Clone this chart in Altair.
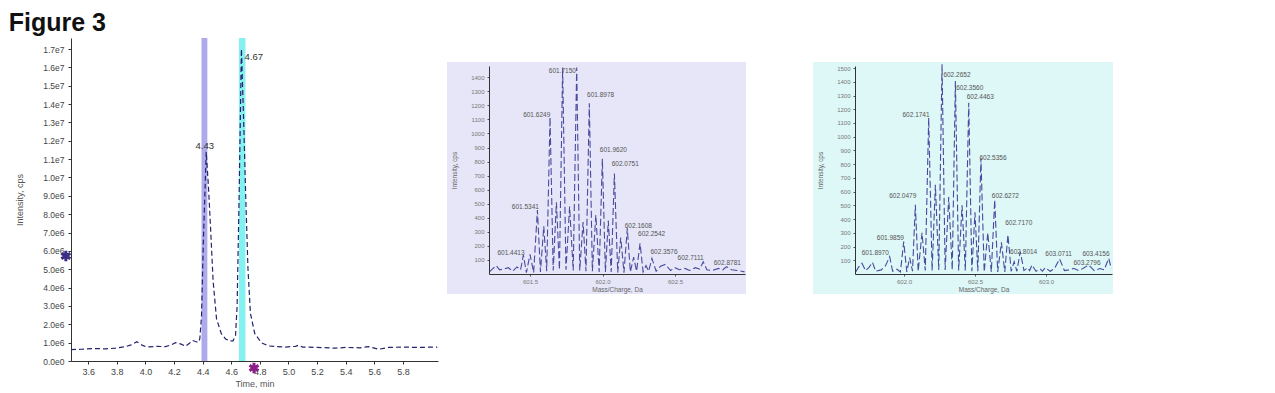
import altair as alt
import pandas as pd

# ---------------- Chromatogram (left) ----------------
chrom_time = [3.48, 3.55, 3.65, 3.72, 3.79, 3.86, 3.90, 3.94, 3.98, 4.01, 4.08, 4.14, 4.18,
              4.21, 4.25, 4.28, 4.31, 4.33, 4.35, 4.37, 4.38, 4.392, 4.405, 4.425, 4.44,
              4.457, 4.473, 4.497, 4.53, 4.56, 4.59, 4.613, 4.63, 4.641, 4.655, 4.671, 4.687,
              4.701, 4.717, 4.734, 4.764, 4.81, 4.86, 4.92, 4.98, 5.05, 5.07, 5.10, 5.20,
              5.33, 5.40, 5.50, 5.56, 5.63, 5.70, 5.80, 5.90, 6.04]
chrom_int = [0.62e6, 0.64e6, 0.68e6, 0.66e6, 0.70e6, 0.78e6, 0.88e6, 1.05e6, 0.85e6, 0.76e6,
             0.80e6, 0.78e6, 0.88e6, 1.00e6, 0.92e6, 0.80e6, 0.98e6, 1.12e6, 1.06e6, 1.02e6,
             1.20e6, 2.40e6, 6.50e6, 11.4e6, 9.60e6, 7.00e6, 4.40e6, 2.30e6, 1.50e6, 1.20e6,
             1.10e6, 1.10e6, 1.40e6, 3.00e6, 9.00e6, 17.0e6, 13.0e6, 9.00e6, 5.00e6, 2.60e6,
             1.50e6, 1.00e6, 0.82e6, 0.78e6, 0.76e6, 0.80e6, 0.86e6, 0.76e6, 0.74e6, 0.70e6,
             0.74e6, 0.72e6, 0.78e6, 0.64e6, 0.74e6, 0.76e6, 0.74e6, 0.76e6]
band_start = [4.392, 4.654]
band_end = [4.433, 4.699]
band_color = ["#aaa6ea", "#7df0f0"]
peak_label_t = [4.415, 4.758]
peak_label_i = [11.7e6, 16.56e6]
peak_label_text = ["4.43", "4.67"]
chrom_ticks_x = [3.6, 3.8, 4.0, 4.2, 4.4, 4.6, 4.8, 5.0, 5.2, 5.4, 5.6, 5.8]
chrom_ticks_y = [0, 1e6, 2e6, 3e6, 4e6, 5e6, 6e6, 7e6, 8e6, 9e6, 1e7, 1.1e7, 1.2e7, 1.3e7,
                 1.4e7, 1.5e7, 1.6e7, 1.7e7]
marker_t = [3.444, 4.759]
marker_i = [5.72e6, -0.38e6]
marker_color = ["#3a2f85", "#8a1f8a"]

# ---------------- Spectrum 1 (middle) ----------------
ms1_mz = [601.22, 601.245, 601.266, 601.29, 601.32, 601.35, 601.38, 601.41, 601.435, 601.454,
          601.475, 601.50, 601.525, 601.551, 601.572, 601.595, 601.615, 601.638, 601.66,
          601.682, 601.703, 601.725, 601.748, 601.773, 601.798, 601.822, 601.843, 601.866,
          601.886, 601.909, 601.93, 601.954, 601.977, 601.999, 602.02, 602.04, 602.06,
          602.082, 602.105, 602.126, 602.148, 602.171, 602.192, 602.215, 602.235, 602.259,
          602.28, 602.30, 602.318, 602.341, 602.37, 602.40, 602.433, 602.47, 602.50, 602.53,
          602.569, 602.60, 602.64, 602.67, 602.695, 602.72, 602.76, 602.80, 602.83, 602.856,
          602.89, 602.93, 602.96, 602.98]
ms1_int = [15, 40, 60, 30, 35, 45, 20, 50, 30, 135,
           10, 140, 10, 455, 15, 340, 20, 1115, 25,
           510, 30, 1470, 30, 480, 25, 1470, 25, 370,
           20, 1215, 20, 420, 15, 820, 15, 380, 15,
           715, 10, 260, 10, 325, 15, 120, 20, 218,
           15, 60, 20, 111, 20, 55, 68, 25, 45, 30,
           40, 25, 45, 35, 87, 30, 25, 40, 30, 52,
           30, 25, 20, 15]
ms1_label_mz = [601.369, 601.468, 601.546, 601.723, 601.987, 602.075, 602.157, 602.247,
                602.339, 602.424, 602.608, 602.861]
ms1_label_int = [146, 477, 1131, 1445, 1272, 883, 784, 342, 283, 158, 116, 76]
ms1_label_text = ["601.4413", "601.5341", "601.6249", "601.7150", "601.8978", "601.9620",
                  "602.0751", "602.1608", "602.2542", "602.3576", "602.7111", "602.8781"]
ms1_ticks_x = [601.5, 602.0, 602.5]
ms1_ticks_y = [100, 200, 300, 400, 500, 600, 700, 800, 900, 1000, 1100, 1200, 1300, 1400]

# ---------------- Spectrum 2 (right) ----------------
ms2_mz = [601.66, 601.68, 601.704, 601.73, 601.755, 601.778, 601.80, 601.84, 601.87, 601.899,
          601.92, 601.95, 601.975, 601.998, 602.02, 602.04, 602.06, 602.080, 602.10, 602.127,
          602.15, 602.174, 602.198, 602.221, 602.245, 602.268, 602.29, 602.315, 602.34,
          602.362, 602.385, 602.409, 602.432, 602.456, 602.478, 602.50, 602.52, 602.542,
          602.565, 602.59, 602.615, 602.639, 602.66, 602.686, 602.71, 602.732, 602.755,
          602.776, 602.795, 602.819, 602.845, 602.87, 602.885, 602.901, 602.93, 602.96,
          602.975, 602.995, 603.03, 603.06, 603.096, 603.13, 603.16, 603.195, 603.23, 603.26,
          603.301, 603.34, 603.38, 603.41, 603.442, 603.46]
ms2_int = [15, 50, 78, 25, 50, 85, 20, 30, 60, 127,
           20, 35, 15, 236, 15, 120, 20, 504, 20, 300,
           25, 1137, 25, 650, 30, 1527, 30, 560, 30,
           1405, 25, 500, 25, 1247, 20, 450, 20, 845,
           15, 300, 15, 540, 15, 230, 15, 285, 20,
           90, 20, 163, 25, 45, 25, 66, 20, 35,
           20, 46, 20, 40, 110, 25, 30, 41, 25, 40,
           66, 25, 40, 30, 114, 40]
ms2_label_mz = [601.798, 601.904, 601.991, 602.085, 602.373, 602.463, 602.537, 602.627,
                602.714, 602.808, 602.843, 603.089, 603.289, 603.352]
ms2_label_int = [151, 265, 565, 1161, 1449, 1356, 1288, 845, 565, 370, 163, 144, 78, 144]
ms2_label_text = ["601.8970", "601.9859", "602.0479", "602.1741", "602.2652", "602.3560",
                  "602.4463", "602.5356", "602.6272", "602.7170", "602.8014", "603.0711",
                  "603.2796", "603.4156"]
ms2_ticks_x = [602.0, 602.5, 603.0]
ms2_ticks_y = [100, 200, 300, 400, 500, 600, 700, 800, 900, 1000, 1100, 1200, 1300, 1400, 1500]

FONT = "Liberation Sans"
H = 323

# ================= Left panel =================
chrom_df = pd.DataFrame({"t": chrom_time, "i": chrom_int})
band_df = pd.DataFrame({"s": band_start, "e": band_end, "c": band_color})
plab_df = pd.DataFrame({"t": peak_label_t, "i": peak_label_i, "txt": peak_label_text})
mark_df = pd.DataFrame({"t": marker_t, "i": marker_i, "c": marker_color})

xs1 = alt.Scale(domain=[3.48, 6.045], nice=False, zero=False)
ys1 = alt.Scale(domain=[0, 1.76e7], nice=False)

ax_common = dict(labelFont=FONT, titleFont=FONT, labelColor="#444", titleColor="#555",
                 domainColor="#333", tickColor="#333", grid=False, titleFontWeight="normal",
                 labelOverlap=False, labelBound=False, labelFlush=False)

xaxis1 = alt.Axis(values=chrom_ticks_x, format=".1f", labelFontSize=9, tickSize=3,
                  title="Time, min", titleFontSize=9, titlePadding=3, labelPadding=3,
                  **ax_common)
yaxis1 = alt.Axis(values=chrom_ticks_y,
                  labelExpr="replace(format(datum.value, '.1e'), 'e+', 'e')",
                  labelFontSize=8.5, tickSize=3, title="Intensity, cps", titleFontSize=9,
                  titlePadding=18, labelPadding=4, **ax_common)

X1 = lambda f: alt.X(f, scale=xs1, axis=xaxis1)
Y1 = lambda f: alt.Y(f, scale=ys1, axis=yaxis1)

bands = alt.Chart(band_df).mark_rect(opacity=0.95).encode(
    x=X1("s:Q"),
    x2="e:Q",
    y=alt.value(0),
    y2=alt.value(H),
    color=alt.Color("c:N", scale=None),
)
trace = alt.Chart(chrom_df).mark_line(color="#25236e", strokeWidth=1.2,
                                       strokeDash=[5, 3]).encode(x=X1("t:Q"), y=Y1("i:Q"))
plabels = alt.Chart(plab_df).mark_text(font=FONT, fontSize=9.5, color="#333").encode(
    x=X1("t:Q"), y=Y1("i:Q"), text="txt:N")
ast_path = "M0,-1L0,1M-0.87,-0.5L0.87,0.5M-0.87,0.5L0.87,-0.5"
markers = alt.Chart(mark_df).mark_point(shape=ast_path, filled=False, strokeWidth=3,
                                        size=110, opacity=1).encode(
    x=X1("t:Q"), y=Y1("i:Q"), color=alt.Color("c:N", scale=None))

left = alt.layer(bands, trace, plabels, markers).properties(width=367, height=H)


# ================= Spectrum panels =================
def spectrum(mz, inten, lmz, lint, ltxt, xdom, ydom, xticks, yticks, pw, gw, bg):
    df = pd.DataFrame({"mz": mz, "i": inten})
    ldf = pd.DataFrame({"mz": lmz, "i": lint, "txt": ltxt})
    xs = alt.Scale(domain=xdom, nice=False, zero=False, range=[0, pw])
    ys = alt.Scale(domain=ydom, nice=False, range=[236, 28])
    sax = dict(labelFont=FONT, titleFont=FONT, labelColor="#777", titleColor="#666",
               domainColor="#333", tickColor="#555", grid=False, titleFontWeight="normal",
               labelFontSize=6, titleFontSize=6.5, tickSize=2, zindex=1, labelOverlap=False,
               labelBound=False, labelFlush=False)
    xax = alt.Axis(values=xticks, format=".1f", offset=-87, title="Mass/Charge, Da",
                   titlePadding=2, labelPadding=2, **sax)
    yax = alt.Axis(values=yticks, format="d", title="Intensity, cps", titlePadding=13,
                   labelPadding=3, **sax)
    one = pd.DataFrame({"k": [0]})
    bgr = alt.Chart(one).mark_rect(color=bg).encode(
        x=alt.value(-42), x2=alt.value(pw + 1), y=alt.value(24), y2=alt.value(256))
    line = alt.Chart(df).mark_line(color="#4a4a9e", strokeWidth=1.1,
                                   strokeDash=[7, 3]).encode(
        x=alt.X("mz:Q", scale=xs, axis=xax),
        y=alt.Y("i:Q", scale=ys, axis=yax))
    labs = alt.Chart(ldf).mark_text(font=FONT, fontSize=6.5, color="#555").encode(
        x=alt.X("mz:Q", scale=xs, axis=xax), y=alt.Y("i:Q", scale=ys, axis=yax),
        text="txt:N")
    return alt.layer(bgr, line, labs).properties(width=gw, height=H)


mid = spectrum(ms1_mz, ms1_int, ms1_label_mz, ms1_label_int, ms1_label_text,
               [601.217, 602.983], [0, 1480], ms1_ticks_x, ms1_ticks_y, 256, 315, "#e6e6f8")
right = spectrum(ms2_mz, ms2_int, ms2_label_mz, ms2_label_int, ms2_label_text,
                 [601.655, 603.465], [0, 1515], ms2_ticks_x, ms2_ticks_y, 257, 257, "#def7f7")

chart = alt.hconcat(left, mid, right, spacing=51, bounds="flush").properties(
    title=alt.TitleParams("Figure 3", anchor="start", fontSize=25, fontWeight="bold",
                          font=FONT, color="#111", frame="bounds", offset=2, dx=-7),
    padding={"top": 3, "left": 0, "right": 0, "bottom": 0},
).configure(background="white").configure_view(stroke="transparent", strokeWidth=0)

chart.save("out.html", embed_options={"renderer": "svg", "actions": False})
